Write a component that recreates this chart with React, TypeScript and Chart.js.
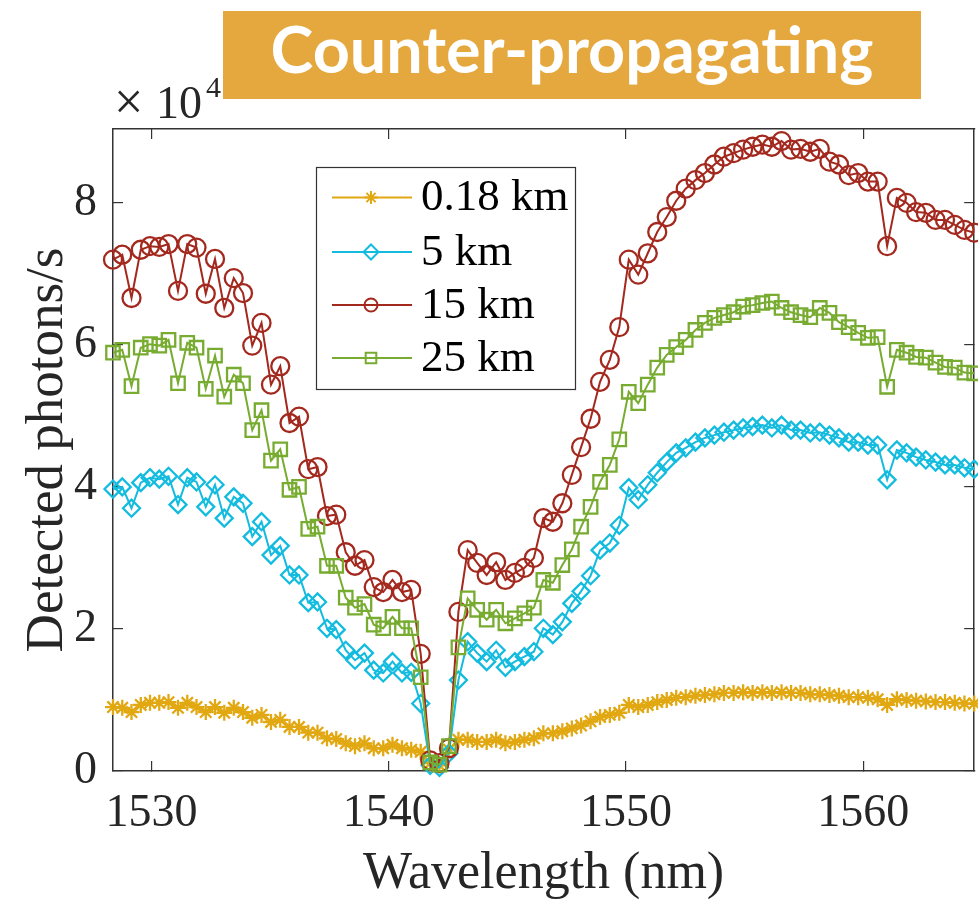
import React, { useEffect, useRef } from 'react';
import { Chart, registerables } from 'chart.js';

Chart.register(...registerables);

// Wavelength grid (nm), 50 GHz channel spacing
const wavelengths = [
  1528.38, 1528.77, 1529.16, 1529.55, 1529.94, 1530.33, 1530.72, 1531.12, 1531.51, 1531.90,
  1532.29, 1532.68, 1533.07, 1533.47, 1533.86, 1534.25, 1534.64, 1535.04, 1535.43, 1535.82,
  1536.22, 1536.61, 1537.00, 1537.40, 1537.79, 1538.19, 1538.58, 1538.98, 1539.37, 1539.77,
  1540.16, 1540.56, 1540.95, 1541.35, 1541.75, 1542.14, 1542.54, 1542.94, 1543.33, 1543.73,
  1544.13, 1544.53, 1544.92, 1545.32, 1545.72, 1546.12, 1546.52, 1546.92, 1547.32, 1547.72,
  1548.11, 1548.51, 1548.91, 1549.32, 1549.72, 1550.12, 1550.52, 1550.92, 1551.32, 1551.72,
  1552.12, 1552.52, 1552.93, 1553.33, 1553.73, 1554.13, 1554.54, 1554.94, 1555.34, 1555.75,
  1556.15, 1556.56, 1556.96, 1557.36, 1557.77, 1558.17, 1558.58, 1558.98, 1559.39, 1559.79,
  1560.20, 1560.61, 1561.01, 1561.42, 1561.83, 1562.23, 1562.64, 1563.05, 1563.45, 1563.86,
  1564.27, 1564.68,
];

const counts018km = [
  9000, 8900, 8300, 9300, 9600, 9600, 9700, 8900, 9600, 9000,
  8300, 9000, 8200, 8900, 8300, 7500, 7900, 6900, 7200, 6200,
  6200, 5400, 5400, 4600, 4500, 3900, 3500, 3900, 3200, 3200,
  3700, 3200, 3000, 2700, 1100, 800, 3000, 4400, 4400, 4100,
  4100, 4400, 3900, 4100, 4400, 4600, 5300, 5300, 5600, 6000,
  6400, 7000, 7600, 7900, 8200, 9300, 9000, 9300, 9700, 10000,
  10300, 10400, 10600, 10700, 10800, 11000, 11000, 11100, 11000, 11100,
  11000, 11100, 11000, 11000, 10800, 10800, 10700, 10600, 10400, 10400,
  10300, 10100, 9300, 10100, 10000, 9900, 9800, 9700, 9700, 9600,
  9500, 9500,
];

const counts5km = [
  39700, 40000, 37000, 40600, 41300, 41100, 41500, 37500, 41300, 40700,
  37200, 40300, 35600, 38600, 37700, 33000, 35100, 30400, 31700, 27600,
  27600, 23700, 23800, 20100, 19900, 17000, 15600, 16600, 14200, 13800,
  15400, 13800, 13900, 9500, 800, 500, 2500, 12800, 18200, 16600,
  15400, 17000, 14600, 15400, 16100, 16800, 20100, 19200, 21000, 23600,
  25300, 27500, 31100, 32100, 34600, 39900, 38200, 40300, 42000, 43500,
  44800, 45500, 46300, 46900, 47300, 47700, 48000, 48300, 48500, 48700,
  48300, 48700, 48000, 48000, 47600, 47700, 47300, 46900, 46300, 46300,
  45900, 45900, 41000, 45200, 44800, 44200, 43800, 43500, 43100, 43100,
  42700, 42500,
];

const counts15km = [
  72000, 72700, 66600, 73400, 73900, 73800, 74200, 67600, 74200, 73700,
  67200, 72100, 65200, 69400, 67300, 59900, 63100, 54400, 57000, 49000,
  49900, 42500, 42800, 35900, 36100, 30800, 28900, 29700, 25900, 25200,
  26900, 25200, 25500, 16500, 1500, 1100, 3200, 22400, 31100, 29300,
  27600, 29400, 26900, 27900, 28600, 30000, 35600, 35100, 37700, 41700,
  45600, 49600, 54800, 57900, 62500, 72000, 69900, 72900, 75900, 78000,
  80300, 82000, 83200, 84200, 85400, 86500, 87000, 87500, 87900, 88200,
  87900, 88700, 87500, 87600, 87200, 87600, 85800, 85400, 83900, 84200,
  83000, 83000, 73900, 80700, 80000, 78700, 78600, 77600, 77600, 76900,
  76200, 75800,
];

const counts25km = [
  58900, 59300, 54200, 59600, 60100, 59900, 60700, 54600, 60300, 59600,
  53800, 58500, 52700, 55800, 54600, 48000, 50800, 43700, 45300, 39600,
  40000, 34100, 34400, 28900, 28900, 24400, 23000, 23500, 20600, 20100,
  21700, 20100, 20100, 13200, 1200, 900, 3500, 17400, 24300, 22700,
  21300, 22700, 20800, 21500, 22200, 23000, 26900, 26500, 29000, 31200,
  34400, 37200, 40700, 43100, 46700, 53400, 51800, 54400, 56800, 58600,
  59700, 60700, 62100, 63100, 63800, 64200, 64600, 65400, 65600, 65900,
  66100, 65200, 64600, 64200, 63900, 65200, 64500, 63200, 62500, 61700,
  61000, 61100, 54100, 59300, 58900, 58300, 58200, 57500, 56900, 56800,
  56100, 56000,
];

const seriesLabels = ['0.18 km', '5 km', '15 km', '25 km'];
const xTickValues = [1530, 1540, 1550, 1560];
const yTickValues = [0, 20000, 40000, 60000, 80000];
const titleText = 'Counter-propagating';
const xAxisTitle = 'Wavelength (nm)';
const yAxisTitle = 'Detected photons/s';

const SERIF = "'Liberation Serif', 'Times New Roman', Times, serif";
const AXIS_COLOR = '#333333';
const TEXT_COLOR = '#262626';

const seriesStyles = [
  { color: '#E2A812', pointStyle: 'star', radius: 8, legendR: 6.5 },
  { color: '#13BCDF', pointStyle: 'rectRot', radius: 8.5, legendR: 7.5 },
  { color: '#A3281E', pointStyle: 'circle', radius: 9, legendR: 6.5 },
  { color: '#77AC30', pointStyle: 'rect', radius: 9.5, legendR: 7.5 },
];

function drawMarker(ctx: CanvasRenderingContext2D, style: string, x: number, y: number, r: number) {
  ctx.beginPath();
  if (style === 'star') {
    for (let k = 0; k < 4; k++) {
      const a = (k * Math.PI) / 4;
      ctx.moveTo(x - r * Math.cos(a), y - r * Math.sin(a));
      ctx.lineTo(x + r * Math.cos(a), y + r * Math.sin(a));
    }
  } else if (style === 'rectRot') {
    ctx.moveTo(x, y - r);
    ctx.lineTo(x + r, y);
    ctx.lineTo(x, y + r);
    ctx.lineTo(x - r, y);
    ctx.closePath();
  } else if (style === 'circle') {
    ctx.arc(x, y, r, 0, Math.PI * 2);
  } else {
    const s = r * Math.SQRT1_2;
    ctx.rect(x - s, y - s, 2 * s, 2 * s);
  }
  ctx.stroke();
}

const decorPlugin = {
  id: 'decor',
  afterDraw(chart: any) {
    const ctx: CanvasRenderingContext2D = chart.ctx;
    const area = chart.chartArea;
    ctx.save();

    // Title banner
    ctx.fillStyle = '#E5A83F';
    ctx.fillRect(223, 11, 698, 88);
    let size = 62;
    ctx.font = `700 ${size}px Lato, 'Open Sans', 'DejaVu Sans', sans-serif`;
    const w = ctx.measureText(titleText).width;
    size = Math.min(68, (size * 603) / w);
    ctx.font = `700 ${size}px Lato, 'Open Sans', 'DejaVu Sans', sans-serif`;
    ctx.fillStyle = '#ffffff';
    ctx.textAlign = 'center';
    ctx.textBaseline = 'alphabetic';
    ctx.fillText(titleText, 572, 73);

    // x10^4 exponent label
    ctx.fillStyle = TEXT_COLOR;
    ctx.textAlign = 'left';
    ctx.font = `52px ${SERIF}`;
    ctx.fillText('\u00d7', area.left + 1, 119);
    ctx.font = `46px ${SERIF}`;
    ctx.fillText('10', area.left + 43, 118);
    ctx.font = `30px ${SERIF}`;
    ctx.fillText('4', area.left + 93, 97);

    // Legend
    const bx = 316, by = 167, bw = 259, bh = 222;
    ctx.fillStyle = '#ffffff';
    ctx.fillRect(bx, by, bw, bh);
    ctx.strokeStyle = AXIS_COLOR;
    ctx.lineWidth = 1.2;
    ctx.strokeRect(bx + 0.5, by + 0.5, bw, bh);
    const rows = [197.5, 252, 305, 358];
    chart.data.datasets.forEach((ds: any, i: number) => {
      const st = seriesStyles[i];
      const y = rows[i];
      ctx.strokeStyle = st.color;
      ctx.lineWidth = 2;
      ctx.beginPath();
      ctx.moveTo(332, y);
      ctx.lineTo(412, y);
      ctx.stroke();
      ctx.fillStyle = '#ffffff';
      drawMarker(ctx, st.pointStyle, 371, y, st.legendR);
      ctx.fillStyle = '#000000';
      ctx.font = `45px ${SERIF}`;
      ctx.textAlign = 'left';
      ctx.textBaseline = 'middle';
      ctx.fillText(ds.label, 421, y + 1);
    });
    ctx.restore();
  },
};

export default function App() {
  const canvasRef = useRef<HTMLCanvasElement | null>(null);

  useEffect(() => {
    const canvas = canvasRef.current;
    if (!canvas) return;
    const allCounts = [counts018km, counts5km, counts15km, counts25km];
    const datasets = allCounts.map((vals, i) => {
      const st = seriesStyles[i];
      return {
        label: seriesLabels[i],
        data: wavelengths.map((x, j) => ({ x, y: vals[j] })),
        borderColor: st.color,
        backgroundColor: 'rgba(0,0,0,0)',
        borderWidth: 2,
        pointStyle: st.pointStyle,
        pointRadius: st.radius,
        pointBorderWidth: 2.3,
        pointBorderColor: st.color,
        pointBackgroundColor: 'rgba(0,0,0,0)',
        tension: 0,
        fill: false,
        clip: false,
        order: 4 - i,
      };
    });

    const grid = {
      display: true,
      drawOnChartArea: false,
      drawTicks: true,
      tickLength: -10,
      color: AXIS_COLOR,
      lineWidth: 1.2,
    };
    const border = { display: true, color: AXIS_COLOR, width: 1.5 };

    const chart = new Chart(canvas, {
      type: 'line',
      data: { datasets } as any,
      options: {
        responsive: false,
        maintainAspectRatio: false,
        devicePixelRatio: 1,
        animation: false,
        layout: { padding: { left: 0, top: 129, right: 4, bottom: 0 } },
        plugins: {
          legend: { display: false },
          tooltip: { enabled: false },
          title: { display: false },
        },
        scales: {
          x: {
            type: 'linear',
            position: 'bottom',
            min: 1528.38,
            max: 1564.68,
            bounds: 'data',
            afterBuildTicks: (s: any) => { s.ticks = xTickValues.map((v) => ({ value: v })); },
            afterFit: (s: any) => { s.height = 129; },
            ticks: {
              font: { family: SERIF, size: 46 },
              color: TEXT_COLOR,
              padding: 25,
              maxRotation: 0,
              callback: (v: any) => String(v),
            },
            grid,
            border,
            title: {
              display: true,
              text: xAxisTitle,
              font: { family: SERIF, size: 52, lineHeight: 1 },
              color: TEXT_COLOR,
              padding: { top: 0, bottom: 0 },
            },
          },
          xTop: {
            type: 'linear',
            position: 'top',
            min: 1528.38,
            max: 1564.68,
            bounds: 'data',
            afterBuildTicks: (s: any) => { s.ticks = xTickValues.map((v) => ({ value: v })); },
            afterFit: (s: any) => { s.height = 0; },
            ticks: { display: false },
            grid,
            border,
          },
          y: {
            type: 'linear',
            position: 'left',
            min: 0,
            max: 90400,
            bounds: 'data',
            afterBuildTicks: (s: any) => { s.ticks = yTickValues.map((v) => ({ value: v })); },
            afterFit: (s: any) => { s.width = 113; },
            ticks: {
              font: { family: SERIF, size: 46 },
              color: TEXT_COLOR,
              padding: 26,
              callback: (v: any) => String(Number(v) / 10000),
            },
            grid,
            border,
            title: {
              display: true,
              text: yAxisTitle,
              font: { family: SERIF, size: 53, lineHeight: 1 },
              color: TEXT_COLOR,
              padding: { top: 22, bottom: 0 },
            },
          },
          yRight: {
            type: 'linear',
            position: 'right',
            min: 0,
            max: 90400,
            bounds: 'data',
            afterBuildTicks: (s: any) => { s.ticks = yTickValues.map((v) => ({ value: v })); },
            afterFit: (s: any) => { s.width = 0; },
            ticks: { display: false },
            grid,
            border,
          },
        },
      } as any,
      plugins: [decorPlugin],
    });
    return () => chart.destroy();
  }, []);

  return (
    <div
      style={{
        position: 'fixed',
        left: 0,
        top: 0,
        width: 978,
        height: 900,
        overflow: 'hidden',
        background: '#ffffff',
      }}
    >
      <canvas ref={canvasRef} width={986} height={900} style={{ display: 'block' }} />
    </div>
  );
}
